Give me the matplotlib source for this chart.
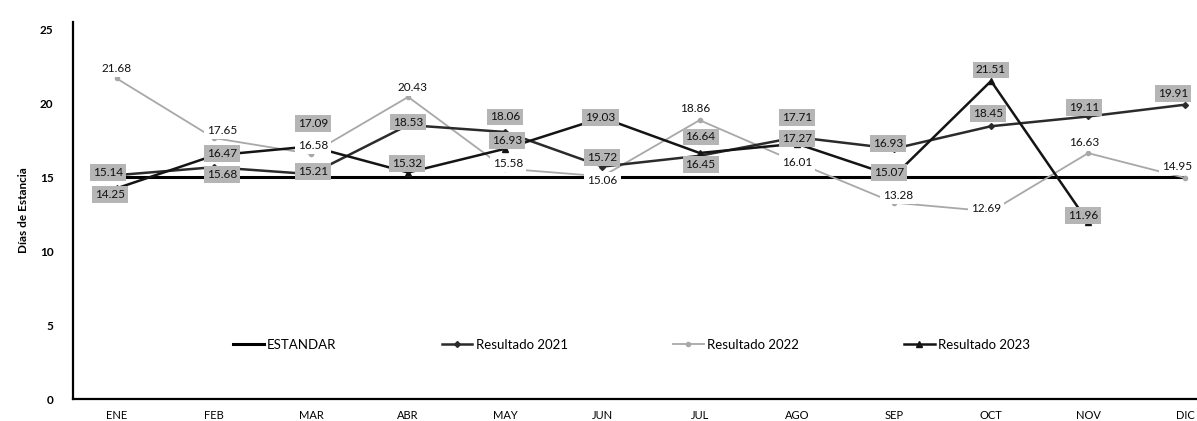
import numpy as np
import matplotlib
matplotlib.use('Agg')
from matplotlib import pyplot as plt

plt.rcParams['font.family'] = ['Lato', 'DejaVu Sans']

"""Dias de estancia por mes"""
meses = ['ENE', 'FEB', 'MAR', 'ABR', 'MAY', 'JUN', 'JUL', 'AGO', 'SEP', 'OCT', 'NOV', 'DIC']
estandar = [15] * 12
r2021 = [15.14, 15.68, 15.21, 18.53, 18.06, 15.72, 16.45, 17.71, 16.93, 18.45, 19.11, 19.91]
r2022 = [21.68, 17.65, 16.58, 20.43, 15.58, 15.06, 18.86, 16.01, 13.28, 12.69, 16.63, 14.95]
r2023 = [14.25, 16.47, 17.09, 15.32, 16.93, 19.03, 16.64, 17.27, 15.07, 21.51, 11.96]

# where each data label sits relative to its point (pixels)
off2021 = [(-9, 3), (8, -7), (2, 3), (0, 3), (0, 15), (0, 9), (1, -9), (0, 20), (-6, 5), (-3, 13), (-4, 9), (-12, 11)]
off2022 = [(0, 10), (8, 8), (2, 8), (4, 9), (3, 5), (0, -4), (-4, 12), (0, 0), (4, 7), (-5, 3), (-4, 11), (-8, 11)]
off2023 = [(-7, -6), (8, 2), (2, 23), (-1, 9), (2, 8), (-2, 0), (1, 16), (0, 5), (-5, 4), (0, 11), (-5, 7)]

fig = plt.figure(figsize=(11.97, 4.21), dpi=100)
ax = fig.add_axes([73/1197, 22/421, 1 - 73/1197, (399-22)/421])

x = np.arange(len(meses))
ax.plot(x, estandar, color='black', lw=2.2, label='ESTANDAR', zorder=2)
ax.plot(x, r2021, color='#2b2b2b', lw=1.8, marker='D', ms=3, label='Resultado 2021', zorder=3)
ax.plot(x, r2022, color='#a8a8a8', lw=1.3, marker='o', ms=3, label='Resultado 2022', zorder=2)
ax.plot(x[:len(r2023)], r2023, color='#141414', lw=1.8, marker='^', ms=4, label='Resultado 2023', zorder=3)

# data labels: grey boxes for 2021/2023, plain for 2022
def etiquetas(vals, offs, fondo):
    for i, v in enumerate(vals):
        ax.annotate('%.2f' % v, (x[i], v), xytext=offs[i], textcoords='offset pixels',
                    ha='center', va='center', fontsize=8.5, color='#111111', zorder=5,
                    bbox=dict(boxstyle='square,pad=0.25', fc=fondo, ec='none'))

etiquetas(r2022, off2022, 'white')
etiquetas(r2021, off2021, '#b5b5b5')
etiquetas(r2023, off2023, '#b5b5b5')

ax.set_xlim(-0.45, 11.12)
ax.set_ylim(0, 25.5)
ax.set_yticks([0, 5, 10, 15, 20, 25])
ax.set_xticks(x)
ax.set_xticklabels(meses)
ax.tick_params(axis='y', length=0, pad=14, labelsize=8.5)
ax.tick_params(axis='x', length=0, pad=8, labelsize=8)
for t in ax.get_yticklabels():
    t.set_fontweight('bold')
ax.set_ylabel('Días de Estancia', fontsize=8.5, fontweight='bold', labelpad=8)

for s in ['top', 'right']:
    ax.spines[s].set_visible(False)
ax.spines['left'].set_linewidth(1.6)
ax.spines['bottom'].set_linewidth(1.6)

ax.legend(loc='center', bbox_to_anchor=(0.497, 0.143), ncol=4, frameon=False,
          fontsize=9.5, handlelength=2.3, handletextpad=0.25, columnspacing=8.0)

plt.savefig('out.png', dpi=100)
